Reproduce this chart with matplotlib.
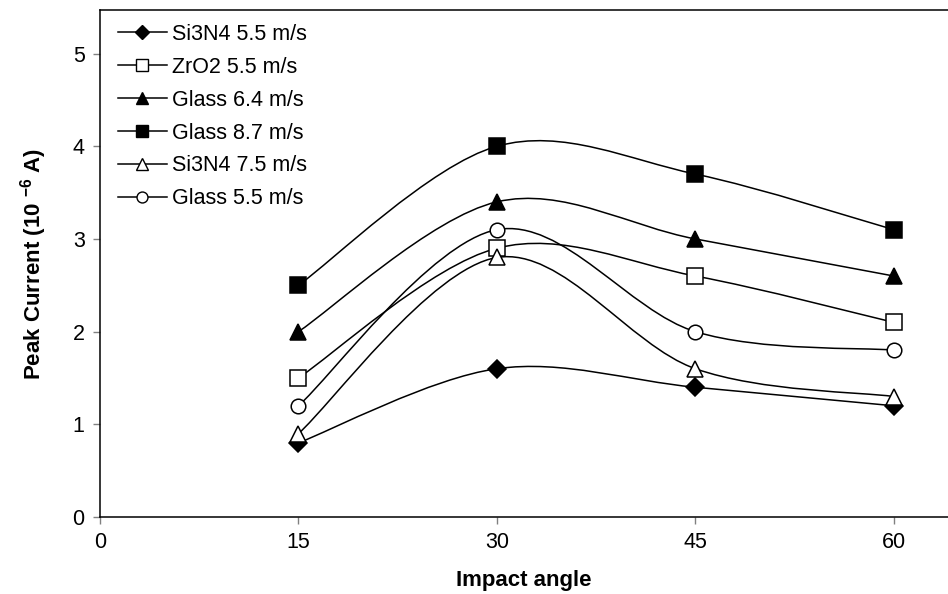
# -*- coding: utf-8 -*-
import numpy as np
import matplotlib
matplotlib.use("Agg")
import matplotlib.pyplot as plt
from matplotlib.path import Path
from matplotlib.patches import PathPatch
from matplotlib.lines import Line2D

plt.rcParams['font.family'] = ['Liberation Sans', 'DejaVu Sans']
plt.rcParams['mathtext.fontset'] = 'custom'
plt.rcParams['mathtext.rm'] = 'Liberation Sans'
plt.rcParams['mathtext.bf'] = 'Liberation Sans:bold'

# Data
angles = [15, 30, 45, 60]
si3n4_55 = [0.8, 1.6, 1.4, 1.2]
zro2_55 = [1.5, 2.9, 2.6, 2.1]
glass_64 = [2.0, 3.4, 3.0, 2.6]
glass_87 = [2.5, 4.0, 3.7, 3.1]
si3n4_75 = [0.9, 2.8, 1.6, 1.3]
glass_55 = [1.2, 3.1, 2.0, 1.8]

labels = ['Si3N4 5.5 m/s', 'ZrO2 5.5 m/s', 'Glass 6.4 m/s',
          'Glass 8.7 m/s', 'Si3N4 7.5 m/s', 'Glass 5.5 m/s']
series = [si3n4_55, zro2_55, glass_64, glass_87, si3n4_75, glass_55]
# (marker, facecolor, size)
styles = [('D', 'black', 9.5), ('s', 'white', 11), ('^', 'black', 12),
          ('s', 'black', 11), ('^', 'white', 12), ('o', 'white', 10.5)]


def smooth_path(x, y):
    """Excel-like smoothed line: cubic Bezier through the points."""
    pts = np.column_stack([x, y]).astype(float)
    n = len(pts)
    verts = [pts[0]]
    codes = [Path.MOVETO]
    for i in range(n - 1):
        p_prev = pts[i - 1] if i > 0 else pts[i]
        p_next2 = pts[i + 2] if i + 2 < n else pts[i + 1]
        c1 = pts[i] + (pts[i + 1] - p_prev) / 6.0
        c2 = pts[i + 1] - (p_next2 - pts[i]) / 6.0
        verts += [c1, c2, pts[i + 1]]
        codes += [Path.CURVE4] * 3
    return Path(verts, codes)


fig = plt.figure(figsize=(9.48, 5.94), dpi=100)
ax = fig.add_axes([100 / 948, 1 - 517 / 594, 1 - 100 / 948, (517 - 10) / 594])

handles = []
for vals, (mk, fc, ms), lab in zip(series, styles, labels):
    ax.add_patch(PathPatch(smooth_path(angles, vals), fill=False,
                           edgecolor='black', lw=1.1, zorder=2))
    ax.plot(angles, vals, linestyle='none', marker=mk, markersize=ms,
            markerfacecolor=fc, markeredgecolor='black', markeredgewidth=1.1,
            zorder=3)
    handles.append(Line2D([], [], color='black', lw=1.1, marker=mk,
                          markersize=ms * 0.75, markerfacecolor=fc,
                          markeredgecolor='black', markeredgewidth=1.0,
                          label=lab))

ax.set_xlim(0, 64.1)
ax.set_ylim(0, 5.47)
ax.set_xticks([0, 15, 30, 45, 60])
ax.set_yticks([0, 1, 2, 3, 4, 5])
ax.tick_params(axis='both', direction='out', length=5, width=1,
               color='#808080', labelsize=15.5, pad=6)
ax.spines['right'].set_visible(False)
for s in ['left', 'top', 'bottom']:
    ax.spines[s].set_linewidth(1.1)

ax.set_xlabel('Impact angle', fontsize=16, fontweight='bold', labelpad=12)
ax.set_ylabel(r'Peak Current (10 $^{\mathbf{-6}}$ A)', fontsize=16,
              fontweight='bold', labelpad=17)

ax.legend(handles=handles, loc='upper left', bbox_to_anchor=(0.005, 1),
          frameon=False, fontsize=15.5, borderaxespad=0, borderpad=0.65,
          handlelength=2.25, handletextpad=0.25, labelspacing=0.55)

fig.savefig('out.png', dpi=100)
